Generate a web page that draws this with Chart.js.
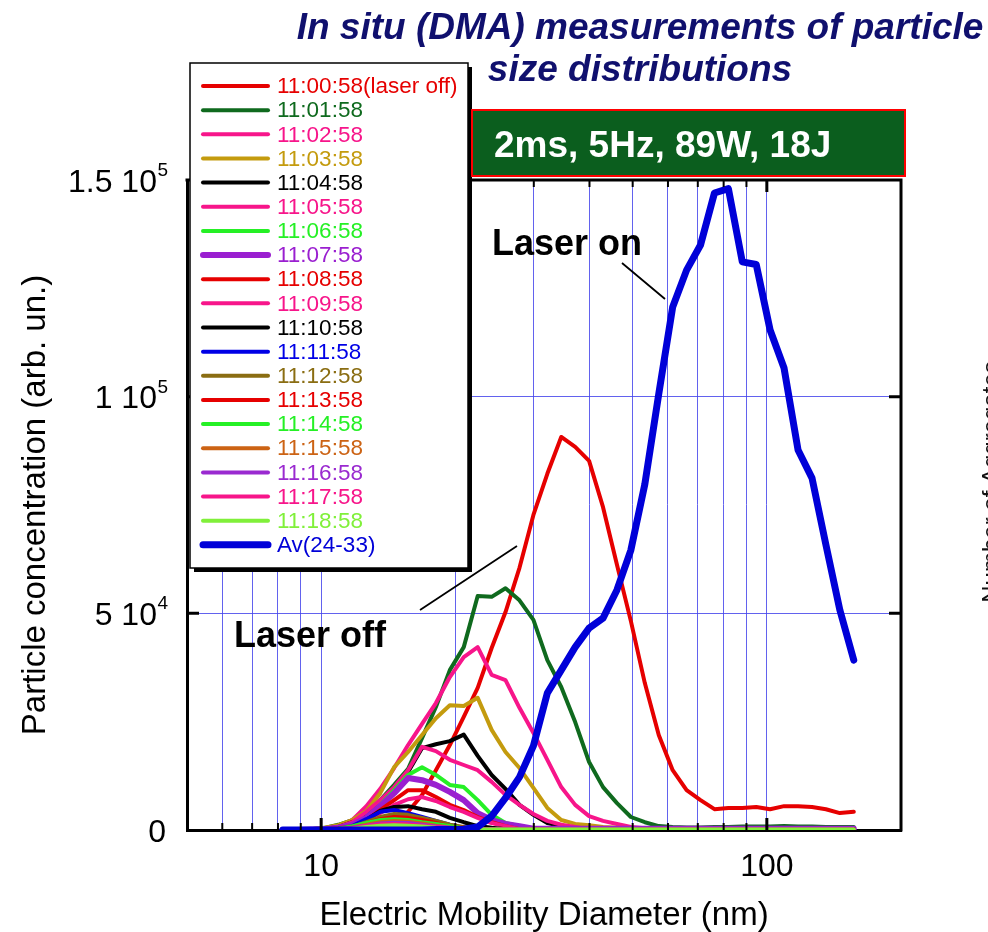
<!DOCTYPE html>
<html>
<head>
<meta charset="utf-8">
<script src="https://cdn.jsdelivr.net/npm/chart.js@4.4.1/dist/chart.umd.min.js"></script>
<style>
html,body{margin:0;padding:0;background:#fff;overflow:hidden}
canvas{display:block}
</style>
</head>
<body>
<canvas id="c" width="988" height="932"></canvas>
<script>
// ---------- data ----------
const diameters = [8.20, 8.81, 9.47, 10.18, 10.93, 11.75, 12.63, 13.57, 14.58, 15.67, 16.84, 18.09, 19.44, 20.89, 22.45, 24.13, 25.92, 27.86, 29.94, 32.17, 34.57, 37.15, 39.92, 42.90, 46.10, 49.54, 53.24, 57.21, 61.48, 66.06, 70.99, 76.29, 81.98, 88.10, 94.67, 101.7, 109.3, 117.5, 126.3, 135.7, 145.8, 156.7];

const seriesLabels = ['11:00:58(laser off)', '11:01:58', '11:02:58', '11:03:58', '11:04:58', '11:05:58', '11:06:58', '11:07:58', '11:08:58', '11:09:58', '11:10:58', '11:11:58', '11:12:58', '11:13:58', '11:14:58', '11:15:58', '11:16:58', '11:17:58', '11:18:58', 'Av(24-33)'];

const s110058 = [0, 0, 100, 200, 300, 400, 600, 900, 1600, 4200, 8100, 13800, 19600, 26100, 32800, 42000, 50300, 60500, 72700, 82200, 90700, 88400, 85200, 74500, 61200, 48200, 33900, 21900, 13800, 9200, 6900, 4800, 5100, 5100, 5300, 4800, 5500, 5500, 5300, 4800, 3900, 4200];
const s110158 = [0, 100, 200, 500, 1200, 2300, 4200, 6900, 10400, 14100, 21200, 28400, 36900, 42200, 54000, 53800, 55800, 53000, 48500, 39200, 33000, 24900, 15700, 9900, 6200, 3000, 1800, 900, 700, 600, 600, 700, 700, 800, 800, 800, 900, 800, 800, 700, 700, 700];
const s110258 = [0, 100, 200, 400, 900, 2300, 5500, 9500, 14300, 19600, 24500, 29300, 35300, 39900, 42200, 35800, 34600, 28200, 22400, 16200, 9900, 5800, 3200, 2100, 1400, 700, 400, 300, 300, 300, 300, 300, 300, 300, 300, 300, 300, 300, 300, 300, 300, 300];
const s110358 = [0, 100, 200, 500, 1100, 2300, 4400, 8500, 14500, 18000, 21900, 25800, 28800, 28600, 30500, 23100, 18000, 14300, 9700, 5100, 2300, 1400, 1100, 700, 500, 300, 300, 300, 300, 300, 300, 300, 300, 300, 300, 300, 300, 300, 300, 300, 300, 300];
const s110458 = [0, 100, 100, 300, 700, 1800, 3700, 5800, 8500, 13400, 18900, 19800, 20500, 22000, 17100, 12700, 9500, 5800, 3500, 1600, 900, 500, 300, 300, 300, 300, 300, 300, 300, 300, 300, 300, 300, 300, 300, 300, 300, 300, 300, 300, 300, 300];
const s110558 = [0, 0, 100, 300, 700, 1800, 4200, 6900, 9900, 13800, 19200, 18200, 16200, 15000, 13800, 11100, 8100, 5800, 3700, 2100, 1200, 700, 200, 200, 200, 200, 200, 200, 200, 200, 200, 200, 200, 200, 200, 200, 200, 200, 200, 200, 200, 200];
const s110658 = [0, 0, 100, 200, 500, 1200, 2800, 5800, 9200, 12700, 14500, 12700, 10400, 9900, 6900, 3500, 1600, 900, 200, 200, 200, 200, 200, 200, 200, 200, 200, 200, 200, 200, 200, 200, 200, 200, 200, 200, 200, 200, 200, 200, 200, 200];
const s110758 = [0, 0, 100, 200, 500, 1200, 2800, 5500, 8500, 12000, 11500, 10400, 8800, 6900, 3900, 2300, 1400, 900, 300, 300, 300, 300, 300, 300, 300, 300, 300, 300, 300, 300, 300, 300, 300, 300, 300, 300, 300, 300, 300, 300, 300, 300];
const s110858 = [0, 0, 100, 200, 400, 900, 2300, 4600, 6900, 9200, 9200, 7600, 5800, 4600, 3000, 1800, 900, 200, 200, 200, 200, 200, 200, 200, 200, 200, 200, 200, 200, 200, 200, 200, 200, 200, 200, 200, 200, 200, 200, 200, 200, 200];
const s110958 = [0, 0, 100, 200, 400, 900, 2100, 3900, 5800, 7100, 7600, 6700, 5300, 4200, 2800, 1600, 900, 200, 200, 200, 200, 200, 200, 200, 200, 200, 200, 200, 200, 200, 200, 200, 200, 200, 200, 200, 200, 200, 200, 200, 200, 200];
const s111058 = [0, 0, 100, 200, 300, 700, 2300, 4400, 5300, 5500, 4800, 4200, 2800, 1800, 900, 500, 200, 200, 200, 200, 200, 200, 200, 200, 200, 200, 200, 200, 200, 200, 200, 200, 200, 200, 200, 200, 200, 200, 200, 200, 200, 200];
const s111158 = [0, 0, 100, 200, 300, 900, 2500, 4200, 4600, 3900, 3000, 2100, 1200, 500, 100, 100, 100, 100, 100, 100, 100, 100, 100, 100, 100, 100, 100, 100, 100, 100, 100, 100, 100, 100, 100, 100, 100, 100, 100, 100, 100, 100];
const s111258 = [0, 0, 100, 150, 300, 700, 1800, 3000, 3700, 3500, 2800, 2100, 1200, 700, 100, 100, 100, 100, 100, 100, 100, 100, 100, 100, 100, 100, 100, 100, 100, 100, 100, 100, 100, 100, 100, 100, 100, 100, 100, 100, 100, 100];
const s111358 = [0, 0, 100, 150, 300, 700, 1600, 2500, 3000, 2800, 2300, 1600, 900, 500, 100, 100, 100, 100, 100, 100, 100, 100, 100, 100, 100, 100, 100, 100, 100, 100, 100, 100, 100, 100, 100, 100, 100, 100, 100, 100, 100, 100];
const s111458 = [0, 0, 100, 150, 300, 900, 1600, 2300, 2500, 2300, 1800, 1400, 900, 400, 100, 100, 100, 100, 100, 100, 100, 100, 100, 100, 100, 100, 100, 100, 100, 100, 100, 100, 100, 100, 100, 100, 100, 100, 100, 100, 100, 100];
const s111558 = [0, 0, 50, 100, 200, 600, 1200, 1800, 2100, 1900, 1500, 1000, 600, 300, 100, 100, 100, 100, 100, 100, 100, 100, 100, 100, 100, 100, 100, 100, 100, 100, 100, 100, 100, 100, 100, 100, 100, 100, 100, 100, 100, 100];
const s111658 = [0, 0, 50, 100, 200, 500, 1000, 1500, 1700, 1600, 1200, 800, 500, 200, 100, 100, 100, 100, 100, 100, 100, 100, 100, 100, 100, 100, 100, 100, 100, 100, 100, 100, 100, 100, 100, 100, 100, 100, 100, 100, 100, 100];
const s111758 = [0, 0, 50, 100, 150, 400, 900, 1300, 1400, 1300, 1000, 700, 400, 200, 100, 100, 100, 100, 100, 100, 100, 100, 100, 100, 100, 100, 100, 100, 100, 100, 100, 100, 100, 100, 100, 100, 100, 100, 100, 100, 100, 100];
const s111858 = [0, 0, 50, 100, 150, 300, 700, 1000, 1100, 1000, 800, 500, 300, 100, 100, 100, 100, 100, 100, 100, 100, 100, 100, 100, 100, 100, 100, 100, 100, 100, 100, 100, 100, 100, 100, 100, 100, 100, 100, 100, 100, 100];
const sAverage = [0, 0, 0, 0, 0, 0, 0, 0, 0, 0, 0, 100, 100, 200, 700, 3200, 7400, 12200, 19400, 31600, 36900, 42200, 46600, 48900, 55400, 64600, 79800, 100600, 120700, 129200, 135000, 147000, 148000, 131100, 130500, 115400, 106600, 87700, 81200, 65800, 50800, 39200];

const seriesValues = [s110058, s110158, s110258, s110358, s110458, s110558, s110658, s110758, s110858, s110958, s111058, s111158, s111258, s111358, s111458, s111558, s111658, s111758, s111858, sAverage];
const seriesColors = ['#e60000', '#0f6a1e', '#f7158a', '#c49b0e', '#000000', '#f7158a', '#25f025', '#9a1fd0', '#e60000', '#f7158a', '#000000', '#0000e6', '#8a6d12', '#e60000', '#25f025', '#cc6314', '#9a2ad0', '#f7158a', '#80f03a', '#0000d8'];
const seriesWidths = [4, 4, 4, 4, 4, 4, 4, 6, 4, 4, 4, 4, 4, 4, 4, 4, 4, 4, 4, 7];

const xTickValues = [5, 6, 7, 8, 9, 10, 20, 30, 40, 50, 60, 70, 80, 90, 100, 200];
const xGridValues = [6, 7, 8, 9, 10, 20, 30, 40, 50, 60, 70, 80, 90, 100];
const xMajorValues = [10, 100];
const xTickLabels = {10: '10', 100: '100'};
const yTickValues = [0, 50000, 100000, 150000];
const yTickMantissa = ['0', '5 10', '1 10', '1.5 10'];
const yTickExponent = ['', '4', '5', '5'];
const yGridValues = [50000, 100000];

const titleLines = ['In situ (DMA) measurements of particle', 'size distributions'];
const conditionsText = '2ms, 5Hz, 89W, 18J';
const xAxisTitle = 'Electric Mobility Diameter (nm)';
const yAxisTitle = 'Particle concentration (arb. un.)';
const laserOnText = 'Laser on';
const laserOffText = 'Laser off';
const sideText = 'Number of Aggregates';

// ---------- chart ----------
const FONT = '"Liberation Sans", Arial, sans-serif';
const GRID_BLUE = 'rgba(70,70,235,0.85)';

const datasets = seriesLabels.map((lab, i) => ({
  label: lab,
  data: diameters.map((d, k) => ({x: d, y: seriesValues[i][k]})),
  borderColor: seriesColors[i],
  backgroundColor: seriesColors[i],
  borderWidth: seriesWidths[i],
  pointRadius: 0,
  tension: 0,
  fill: false,
  borderJoinStyle: 'round',
  borderCapStyle: 'round',
  order: seriesLabels.length - i
}));

const decorPlugin = {
  id: 'decor',
  afterDraw(chart) {
    const ctx = chart.ctx;
    const a = chart.chartArea;
    const xs = chart.scales.x, ys = chart.scales.y;
    ctx.save();
    // frame (top & right)
    ctx.strokeStyle = '#000';
    ctx.lineWidth = 3;
    ctx.beginPath();
    ctx.moveTo(a.left - 1.5, a.top);
    ctx.lineTo(a.right, a.top);
    ctx.lineTo(a.right, a.bottom + 1.5);
    ctx.stroke();
    // inner ticks on x
    xGridValues.forEach(v => {
      const px = xs.getPixelForValue(v);
      const major = xMajorValues.includes(v);
      const len = major ? 12 : 7;
      ctx.lineWidth = major ? 3 : 2;
      ctx.beginPath();
      ctx.moveTo(px, a.bottom); ctx.lineTo(px, a.bottom - len);
      ctx.moveTo(px, a.top); ctx.lineTo(px, a.top + len);
      ctx.stroke();
    });
    // inner ticks on y
    yGridValues.forEach(v => {
      const py = ys.getPixelForValue(v);
      ctx.lineWidth = 3;
      ctx.beginPath();
      ctx.moveTo(a.left, py); ctx.lineTo(a.left + 12, py);
      ctx.moveTo(a.right, py); ctx.lineTo(a.right - 12, py);
      ctx.stroke();
    });

    // y tick labels with superscript exponents
    ctx.fillStyle = '#000';
    ctx.textAlign = 'right';
    ctx.textBaseline = 'alphabetic';
    yTickValues.forEach((v, k) => {
      const py = ys.getPixelForValue(v);
      let xr = 168;
      if (yTickExponent[k]) {
        ctx.font = '19px ' + FONT;
        ctx.fillText(yTickExponent[k], xr, py - 4);
        xr -= ctx.measureText(yTickExponent[k]).width + 0.5;
      } else {
        xr = 166;
      }
      ctx.font = '32px ' + FONT;
      ctx.fillText(yTickMantissa[k], xr, py + 11.5);
    });

    // legend box with shadow
    ctx.fillStyle = '#000';
    ctx.fillRect(194, 67, 278, 505);
    ctx.fillStyle = '#fff';
    ctx.fillRect(190, 63, 278, 505);
    ctx.lineWidth = 1.5;
    ctx.strokeStyle = '#000';
    ctx.strokeRect(190, 63, 278, 505);
    ctx.font = '22.5px ' + FONT;
    ctx.textBaseline = 'middle';
    ctx.textAlign = 'left';
    chart.data.datasets.forEach((ds, i) => {
      const y = 86 + i * 24.15;
      ctx.strokeStyle = ds.borderColor;
      ctx.lineWidth = ds.borderWidth;
      ctx.lineCap = 'round';
      ctx.beginPath(); ctx.moveTo(203, y); ctx.lineTo(268, y); ctx.stroke();
      ctx.fillStyle = ds.borderColor;
      ctx.fillText(ds.label, 277, y + 1);
    });

    // title
    ctx.fillStyle = '#10106e';
    ctx.textAlign = 'center';
    ctx.textBaseline = 'alphabetic';
    ctx.font = 'italic bold 37px ' + FONT;
    ctx.fillText(titleLines[0], 640, 39);
    ctx.fillText(titleLines[1], 640, 81);

    // conditions box
    ctx.fillStyle = '#0b5e1e';
    ctx.fillRect(472, 110, 433, 66);
    ctx.strokeStyle = '#ff0000';
    ctx.lineWidth = 2;
    ctx.strokeRect(472, 110, 433, 66);
    ctx.fillStyle = '#ffffff';
    ctx.textAlign = 'left';
    ctx.font = 'bold 37px ' + FONT;
    ctx.fillText(conditionsText, 494, 157);

    // annotations
    ctx.fillStyle = '#000';
    ctx.font = 'bold 36px ' + FONT;
    ctx.fillText(laserOnText, 492, 255);
    ctx.fillText(laserOffText, 234, 647);
    ctx.strokeStyle = '#000';
    ctx.lineWidth = 1.8;
    ctx.lineCap = 'butt';
    ctx.beginPath();
    ctx.moveTo(622, 263); ctx.lineTo(665, 299);
    ctx.moveTo(420, 610); ctx.lineTo(517, 546);
    ctx.stroke();

    // clipped side label (edge of neighbouring chart)
    ctx.save();
    ctx.translate(999, 482);
    ctx.rotate(-Math.PI / 2);
    ctx.font = '24px ' + FONT;
    ctx.fillStyle = '#111';
    ctx.textAlign = 'center';
    ctx.fillText(sideText, 0, 0);
    ctx.restore();

    ctx.restore();
  }
};

const bgPlugin = {
  id: 'bg',
  beforeDraw(chart) {
    const ctx = chart.ctx;
    ctx.save();
    ctx.fillStyle = '#fff';
    ctx.fillRect(0, 0, chart.width, chart.height);
    ctx.restore();
  }
};

new Chart(document.getElementById('c'), {
  type: 'line',
  data: {datasets},
  options: {
    responsive: false,
    animation: false,
    devicePixelRatio: 1,
    events: [],
    layout: {padding: {left: 0, right: 87, top: 180, bottom: 0}},
    plugins: {legend: {display: false}, tooltip: {enabled: false}, title: {display: false}},
    scales: {
      x: {
        type: 'logarithmic',
        position: 'bottom',
        min: 5,
        max: 200,
        afterBuildTicks: (scale) => { scale.ticks = xTickValues.map(v => ({value: v})); },
        afterFit: (scale) => { scale.height = 102; },
        ticks: {
          autoSkip: false,
          maxRotation: 0,
          padding: 18,
          color: '#000',
          font: {family: FONT, size: 32},
          callback: (v) => xTickLabels[v] || ''
        },
        grid: {
          drawTicks: false,
          lineWidth: 1,
          color: (c) => (c.tick && xGridValues.includes(c.tick.value)) ? GRID_BLUE : 'rgba(0,0,0,0)'
        },
        border: {display: true, color: '#000', width: 3},
        title: {display: true, text: xAxisTitle, color: '#000', font: {family: FONT, size: 33}, padding: {top: 0, bottom: -4}}
      },
      y: {
        type: 'linear',
        position: 'left',
        min: 0,
        max: 150000,
        afterBuildTicks: (scale) => { scale.ticks = yTickValues.map(v => ({value: v})); },
        afterFit: (scale) => { scale.width = 187; },
        ticks: {
          display: false
        },
        grid: {
          drawTicks: false,
          lineWidth: 1,
          color: (c) => (c.tick && yGridValues.includes(c.tick.value)) ? GRID_BLUE : 'rgba(0,0,0,0)'
        },
        border: {display: true, color: '#000', width: 3},
        title: {display: true, text: yAxisTitle, color: '#000', font: {family: FONT, size: 33}, padding: {top: 16, bottom: 0}}
      }
    }
  },
  plugins: [bgPlugin, decorPlugin]
});
</script>
</body>
</html>
